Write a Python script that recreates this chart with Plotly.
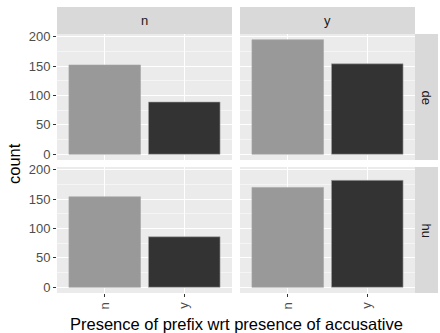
import plotly.graph_objects as go

# Data
col_facets = ["n", "y"]          # prefix presence (columns)
row_facets = ["de", "hu"]        # language (rows)
categories = ["n", "y"]          # accusative presence (x)
counts_de_n = [152, 89]
counts_de_y = [195, 154]
counts_hu_n = [154, 86]
counts_hu_y = [170, 182]
bar_colors = ["#999999", "#333333"]
y_ticks = [0, 50, 100, 150, 200]

counts = {("de", "n"): counts_de_n, ("de", "y"): counts_de_y,
          ("hu", "n"): counts_hu_n, ("hu", "y"): counts_hu_y}

W, H = 440, 333
def px(x): return x / W
def py(y): return 1 - y / H

col_dom = [(px(57), px(232)), (px(240), px(415))]
row_dom = [(py(160), py(34)), (py(293), py(167))]

fig = go.Figure()
ymax = max(max(v) for v in counts.values())
yrange = [-0.05 * ymax, 1.05 * ymax]

font_family = "Liberation Sans, Arial, sans-serif"
tick_size = 13
axis_i = 0
for r, rf in enumerate(row_facets):
    for c, cf in enumerate(col_facets):
        axis_i += 1
        xa = "x" if axis_i == 1 else f"x{axis_i}"
        ya = "y" if axis_i == 1 else f"y{axis_i}"
        fig.add_trace(go.Bar(
            x=categories, y=counts[(rf, cf)], xaxis=xa, yaxis=ya,
            marker=dict(color=bar_colors, line=dict(color="#a6a6a6", width=0.6)),
            width=0.9, showlegend=False, hoverinfo="skip"))
        xkey = "xaxis" if axis_i == 1 else f"xaxis{axis_i}"
        ykey = "yaxis" if axis_i == 1 else f"yaxis{axis_i}"
        show_x = (r == len(row_facets) - 1)
        show_y = (c == 0)
        fig.layout[xkey] = dict(
            domain=col_dom[c], anchor=ya, type="category",
            categoryorder="array", categoryarray=categories,
            range=[-0.6, 1.6], showgrid=True, gridcolor="white", gridwidth=1.1,
            zeroline=False, showline=False, automargin=False,
            showticklabels=show_x, ticks="outside" if show_x else "",
            ticklen=3, tickcolor="#333333", tickangle=-90,
            tickfont=dict(family=font_family, size=tick_size, color="#4D4D4D"),
            fixedrange=True)
        fig.layout[ykey] = dict(
            domain=row_dom[r], anchor=xa, range=yrange,
            tickvals=y_ticks, showgrid=True, gridcolor="white", gridwidth=1.1,
            minor=dict(dtick=25, tick0=25, showgrid=True, gridcolor="white", gridwidth=0.5),
            zeroline=False, showline=False, automargin=False,
            showticklabels=show_y, ticks="outside" if show_y else "",
            ticklen=3, tickcolor="#333333",
            tickfont=dict(family=font_family, size=tick_size, color="#4D4D4D"),
            fixedrange=True)
        # panel background
        fig.add_shape(type="rect", xref="paper", yref="paper",
                      x0=col_dom[c][0], x1=col_dom[c][1],
                      y0=row_dom[r][0], y1=row_dom[r][1],
                      fillcolor="#EBEBEB", line=dict(width=0), layer="below")

# strips
annotations = []
center = dict(xanchor="center", yanchor="middle", xref="paper", yref="paper", showarrow=False)
for c, cf in enumerate(col_facets):
    fig.add_shape(type="rect", xref="paper", yref="paper",
                  x0=col_dom[c][0], x1=col_dom[c][1], y0=py(34), y1=py(7),
                  fillcolor="#D9D9D9", line=dict(width=0))
    annotations.append(dict(text=cf, x=(col_dom[c][0] + col_dom[c][1]) / 2,
                            y=(py(34) + py(7)) / 2, **center,
                            font=dict(family=font_family, size=13, color="#1A1A1A")))
for r, rf in enumerate(row_facets):
    fig.add_shape(type="rect", xref="paper", yref="paper",
                  x0=px(415), x1=px(438), y0=row_dom[r][0], y1=row_dom[r][1],
                  fillcolor="#D9D9D9", line=dict(width=0))
    annotations.append(dict(text=rf, x=(px(415) + px(438)) / 2,
                            y=(row_dom[r][0] + row_dom[r][1]) / 2, textangle=90, **center,
                            font=dict(family=font_family, size=13, color="#1A1A1A")))

annotations.append(dict(text="Presence of prefix wrt presence of accusative",
                        x=(px(57) + px(415)) / 2, y=py(324), **center,
                        font=dict(family=font_family, size=16.5, color="black")))
annotations.append(dict(text="count", x=px(14), y=py(163), textangle=-90, **center,
                        font=dict(family=font_family, size=16.5, color="black")))

fig.update_layout(width=W, height=H,
                  margin=dict(l=0, r=0, t=0, b=0, autoexpand=False),
                  paper_bgcolor="white", plot_bgcolor="rgba(0,0,0,0)",
                  annotations=annotations, bargap=0, hovermode=False)

fig.write_html("out.html", config={"displayModeBar": False, "staticPlot": True},
               post_script="document.body.style.margin='0px';document.body.style.overflow='hidden';")
